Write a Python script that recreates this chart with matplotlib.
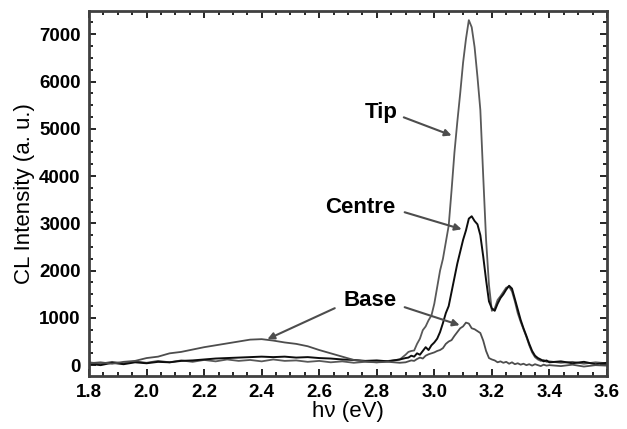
import matplotlib.pyplot as plt
from matplotlib.ticker import MultipleLocator

plt.rcParams['font.family'] = ['Liberation Sans', 'DejaVu Sans']

# Photon energy (eV)
energy = [1.80, 1.84, 1.88, 1.92, 1.96, 2.00, 2.04, 2.08, 2.12, 2.16,
          2.20, 2.24, 2.28, 2.32, 2.36, 2.40, 2.44, 2.48, 2.52, 2.56,
          2.60, 2.64, 2.68, 2.72, 2.76, 2.80, 2.84, 2.88,
          2.90, 2.91, 2.92, 2.93, 2.94, 2.95, 2.96, 2.97, 2.98, 2.99,
          3.00, 3.01, 3.02, 3.03, 3.04, 3.05, 3.06, 3.07, 3.08, 3.09,
          3.10, 3.11, 3.12, 3.13, 3.14, 3.15, 3.16, 3.17, 3.18, 3.19,
          3.20, 3.21, 3.22, 3.23, 3.24, 3.25, 3.26, 3.27, 3.28, 3.29,
          3.30, 3.31, 3.32, 3.33, 3.34, 3.35, 3.36, 3.37, 3.38, 3.39,
          3.40, 3.44, 3.48, 3.52, 3.56, 3.60]

# CL intensity (a. u.)
tip = [60, 30, 70, 40, 80, 50, 90, 60, 100, 70,
       110, 80, 120, 90, 110, 80, 120, 90, 100, 70,
       90, 60, 80, 50, 70, 60, 90, 120,
       220, 280, 300, 310, 450, 560, 740, 820, 950, 1050,
       1300, 1650, 2000, 2250, 2600, 2950, 3700, 4500, 5150, 5750,
       6400, 6900, 7300, 7150, 6730, 6100, 5400, 4000, 2650, 1700,
       1150, 1200, 1380, 1460, 1550, 1640, 1660, 1560, 1350, 1100,
       920, 760, 600, 420, 270, 170, 120, 90, 110, 70,
       80, 50, 70, 30, 60, 40]

centre = [30, 0, 50, 20, 60, 40, 70, 60, 90, 100,
          120, 140, 150, 160, 170, 180, 170, 180, 160, 170,
          150, 140, 120, 110, 90, 100, 80, 120,
          150, 160, 200, 180, 250, 220, 300, 380, 320, 420,
          480, 560, 700, 890, 1100, 1250, 1550, 1850, 2150, 2400,
          2650, 2850, 3100, 3150, 3050, 2980, 2750, 2300, 1800, 1350,
          1200, 1150, 1300, 1420, 1500, 1600, 1680, 1620, 1400, 1180,
          960, 780, 620, 450, 300, 200, 150, 120, 80, 100,
          60, 80, 40, 70, 20, 50]

base = [40, 60, 30, 70, 90, 150, 180, 250, 280, 330,
        380, 420, 460, 500, 540, 550, 520, 480, 450, 400,
        320, 250, 180, 110, 80, 60, 70, 50,
        60, 80, 100, 90, 130, 160, 140, 200, 230, 250,
        270, 300, 320, 360, 450, 500, 530, 620, 700, 780,
        820, 900, 880, 780, 760, 720, 680, 520, 300, 150,
        120, 100, 60, 80, 50, 70, 30, 60, 20, 40,
        10, 30, 0, 20, -10, 20, 0, -20, 10, -10,
        0, -20, 10, -30, 0, -10]

fig = plt.figure(figsize=(6.27, 4.29), dpi=100)
ax = fig.add_axes([0.142, 0.1235, 0.826, 0.8505])

ax.plot(energy, tip, color='0.35', lw=1.3)
ax.plot(energy, centre, color='0.05', lw=1.4)
ax.plot(energy, base, color='0.3', lw=1.3)

# Labels with arrows
arrow = dict(arrowstyle='-|>', color='0.3', lw=1.5, mutation_scale=10,
             shrinkA=0, shrinkB=0)
ax.text(2.817, 5350, 'Tip', fontsize=16, fontweight='bold', ha='center', va='center')
ax.annotate('', xy=(3.06, 4860), xytext=(2.894, 5243), arrowprops=arrow)
ax.text(2.744, 3340, 'Centre', fontsize=16, fontweight='bold', ha='center', va='center')
ax.annotate('', xy=(3.095, 2875), xytext=(2.897, 3235), arrowprops=arrow)
ax.text(2.776, 1374, 'Base', fontsize=16, fontweight='bold', ha='center', va='center')
ax.annotate('', xy=(3.088, 846), xytext=(2.897, 1226), arrowprops=arrow)
ax.annotate('', xy=(2.42, 550), xytext=(2.654, 1205), arrowprops=arrow)

ax.set_xlim(1.8, 3.6)
ax.set_ylim(-230, 7490)
ax.xaxis.set_minor_locator(MultipleLocator(0.05))
ax.yaxis.set_major_locator(MultipleLocator(1000))
ax.yaxis.set_minor_locator(MultipleLocator(250))
ax.set_xticks([1.8, 2.0, 2.2, 2.4, 2.6, 2.8, 3.0, 3.2, 3.4, 3.6])
ax.set_xticklabels(['1.8', '2.0', '2.2', '2.4', '2.6', '2.8', '3.0', '3.2', '3.4', '3.6'])
ax.tick_params(which='both', direction='in', top=True, right=True, width=1.2)
ax.tick_params(which='major', length=5, labelsize=13.5, pad=6)
ax.tick_params(which='minor', length=3)
for lab in ax.get_xticklabels() + ax.get_yticklabels():
    lab.set_fontweight('bold')
for s in ax.spines.values():
    s.set_linewidth(2)
    s.set_color('0.25')

ax.set_xlabel('h\u03bd (eV)', fontsize=16, labelpad=0)
ax.set_ylabel('CL Intensity (a. u.)', fontsize=16, labelpad=3)

fig.savefig('out.png', dpi=100)
